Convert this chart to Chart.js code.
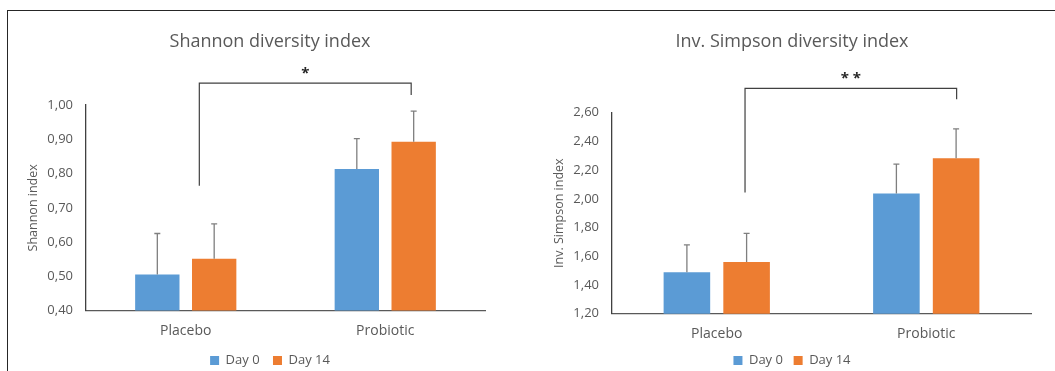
<!DOCTYPE html>
<html>
<head>
<meta charset="utf-8">
<script src="https://cdn.jsdelivr.net/npm/chart.js@4/dist/chart.umd.min.js"></script>
<style>
  html, body { margin: 0; padding: 0; background: #fff; overflow: hidden; }
  #page { position: relative; width: 1055px; height: 371px; overflow: hidden; }
  #frame { position: absolute; left: 7px; top: 10px; right: -5px; bottom: -5px;
           border-top: 1px solid #262626; border-left: 1px solid #262626; }
  .box { position: absolute; top: 0; height: 377px; }
</style>
</head>
<body>
<div id="page">
  <div id="frame"></div>
  <div class="box" style="left:0;width:527px"><canvas id="shannonChart"></canvas></div>
  <div class="box" style="left:527px;width:528px"><canvas id="simpsonChart"></canvas></div>
</div>
<script>
var categories = ['Placebo', 'Probiotic'];
var seriesNames = ['Day 0', 'Day 14'];
var seriesColors = ['#5B9BD5', '#ED7D31'];

// Shannon
var shannonDay0 = [0.505, 0.813];
var shannonDay14 = [0.551, 0.893];
var shannonErr0 = [0.120, 0.089];
var shannonErr14 = [0.102, 0.089];
var shannonTicks = ['0,40', '0,50', '0,60', '0,70', '0,80', '0,90', '1,00'];
// bracket: category positions (left, right), y levels (left bottom, top, right bottom)
var shannonSigX = [0.068, 1.13];
var shannonSigY = [0.764, 1.064, 1.029];

// Inv. Simpson
var simpsonDay0 = [1.488, 2.038];
var simpsonDay14 = [1.560, 2.282];
var simpsonErr0 = [0.192, 0.204];
var simpsonErr14 = [0.200, 0.206];
var simpsonTicks = ['1,20', '1,40', '1,60', '1,80', '2,00', '2,20', '2,40', '2,60'];
var simpsonSigX = [0.135, 1.145];
var simpsonSigY = [2.045, 2.77, 2.693];

var textColor = '#595959';
var fontFamily = "'Open Sans', 'Noto Sans', sans-serif";

// error bars + significance bracket
var extrasPlugin = {
    id: 'extras',
    afterDatasetsDraw: function (chart) {
        var o = chart.options.plugins.extras;
        var ctx = chart.ctx;
        var xs = chart.scales.x, ys = chart.scales.y;
        ctx.save();
        ctx.strokeStyle = '#7F7F7F';
        ctx.lineWidth = 1.3;
        o.errors.forEach(function (errs, di) {
            var meta = chart.getDatasetMeta(di);
            var vals = chart.data.datasets[di].data;
            meta.data.forEach(function (bar, i) {
                var yTop = ys.getPixelForValue(vals[i] + errs[i]);
                ctx.beginPath();
                ctx.moveTo(bar.x, bar.y);
                ctx.lineTo(bar.x, yTop);
                ctx.moveTo(bar.x - 3, yTop);
                ctx.lineTo(bar.x + 3, yTop);
                ctx.stroke();
            });
        });
        var xl = xs.getPixelForValue(o.sigX[0]);
        var xr = xs.getPixelForValue(o.sigX[1]);
        var yl = ys.getPixelForValue(o.sigY[0]);
        var yt = ys.getPixelForValue(o.sigY[1]);
        var yr = ys.getPixelForValue(o.sigY[2]);
        ctx.strokeStyle = '#404040';
        ctx.lineWidth = 1.2;
        ctx.beginPath();
        ctx.moveTo(xl, yl);
        ctx.lineTo(xl, yt);
        ctx.lineTo(xr, yt);
        ctx.lineTo(xr, yr);
        ctx.stroke();
        ctx.fillStyle = '#262626';
        ctx.font = 'bold 15px ' + fontFamily;
        ctx.textAlign = 'center';
        ctx.textBaseline = 'alphabetic';
        ctx.fillText(o.sigLabel, (xl + xr) / 2, yt - 5);
        ctx.restore();
    }
};

function makeChart(id, cfg) {
    var ctx = document.getElementById(id).getContext('2d');
    return new Chart(ctx, {
        type: 'bar',
        data: {
            labels: categories,
            datasets: [
                { label: seriesNames[0], data: cfg.day0, backgroundColor: seriesColors[0] },
                { label: seriesNames[1], data: cfg.day14, backgroundColor: seriesColors[1] }
            ]
        },
        options: {
            responsive: true,
            maintainAspectRatio: false,
            animation: false,
            events: [],
            categoryPercentage: 0.57,
            barPercentage: 0.78,
            layout: { padding: { left: cfg.padL, right: cfg.padR, top: 0, bottom: 0 } },
            plugins: {
                title: {
                    display: true,
                    text: cfg.title,
                    color: textColor,
                    font: { family: fontFamily, size: 18, weight: 'normal' },
                    padding: { top: 31, bottom: cfg.titleGap }
                },
                legend: {
                    position: 'bottom',
                    labels: {
                        boxWidth: 9,
                        boxHeight: 9,
                        padding: cfg.legendPad,
                        color: textColor,
                        font: { family: fontFamily, size: 13 }
                    }
                },
                tooltip: { enabled: false },
                extras: {
                    errors: [cfg.err0, cfg.err14],
                    sigX: cfg.sigX,
                    sigY: cfg.sigY,
                    sigLabel: cfg.sigLabel
                }
            },
            scales: {
                x: {
                    grid: { display: false, drawTicks: false },
                    border: { display: true, color: '#595959', width: 1.3 },
                    ticks: { color: textColor, padding: 12, font: { family: fontFamily, size: 14 } },
                    afterFit: function (s) { s.height = cfg.xHeight; }
                },
                y: {
                    min: cfg.min,
                    max: cfg.max,
                    grid: { display: false, drawTicks: false },
                    border: { display: true, color: '#404040', width: 1.3 },
                    ticks: {
                        stepSize: cfg.step,
                        color: textColor,
                        padding: 13,
                        font: { family: fontFamily, size: 13 },
                        callback: function (v, i) { return cfg.ticks[i]; }
                    },
                    title: {
                        display: true,
                        text: cfg.yTitle,
                        color: textColor,
                        font: { family: fontFamily, size: 12.5 },
                        padding: { top: 6, bottom: 0 }
                    },
                    afterFit: function (s) { s.width = cfg.yWidth; }
                },
                yRight: {
                    position: 'right',
                    display: true,
                    grid: { display: false, drawTicks: false },
                    border: { display: false },
                    ticks: { display: false },
                    afterFit: function (s) { s.width = cfg.rightWidth; }
                }
            }
        },
        plugins: [extrasPlugin]
    });
}

makeChart('shannonChart', {
    title: 'Shannon diversity index',
    yTitle: 'Shannon index',
    day0: shannonDay0, day14: shannonDay14,
    err0: shannonErr0, err14: shannonErr14,
    ticks: shannonTicks, min: 0.4, max: 1.0, step: 0.1,
    sigX: shannonSigX, sigY: shannonSigY, sigLabel: '*',
    padL: 20, padR: 7, yWidth: 66, rightWidth: 35,
    titleGap: 52.4, legendPad: 13.4, xHeight: 30
});

makeChart('simpsonChart', {
    title: 'Inv. Simpson diversity index',
    yTitle: 'Inv. Simpson index',
    day0: simpsonDay0, day14: simpsonDay14,
    err0: simpsonErr0, err14: simpsonErr14,
    ticks: simpsonTicks, min: 1.2, max: 2.6, step: 0.2,
    sigX: simpsonSigX, sigY: simpsonSigY, sigLabel: '* *',
    padL: 19, padR: 17, yWidth: 66, rightWidth: 7,
    titleGap: 60.1, legendPad: 10.7, xHeight: 29.6
});
</script>
</body>
</html>
